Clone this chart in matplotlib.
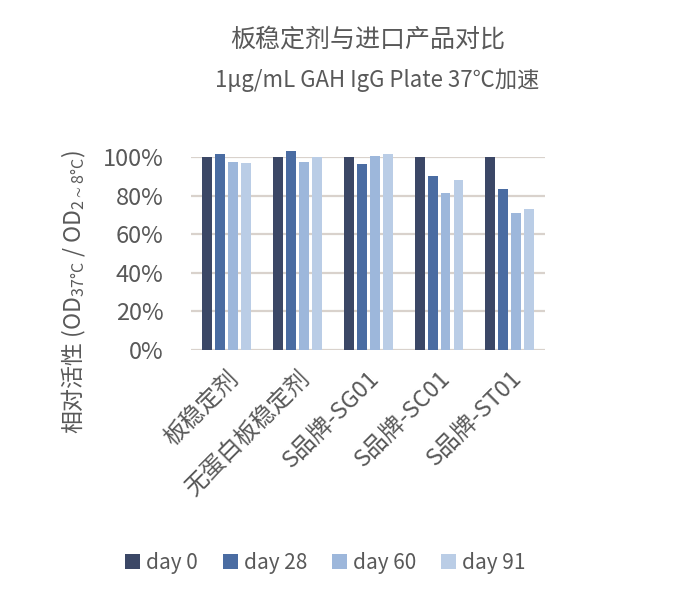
"""
Plate stabiliser vs imported products, 37°C accelerated stability
"""
import numpy as np
import matplotlib
matplotlib.use("Agg")
import matplotlib.pyplot as plt

plt.rcParams["font.family"] = ["Noto Sans CJK SC", "DejaVu Sans"]

# ── Data ──────────────────────────────────────────────────────────────
CATEGORIES = ["板稳定剂", "无蛋白板稳定剂", "S品牌-SG01", "S品牌-SC01", "S品牌-ST01"]
SERIES = ["day 0", "day 28", "day 60", "day 91"]
DAY0 = [1.000, 1.000, 1.000, 1.000, 1.000]
DAY28 = [1.016, 1.033, 0.967, 0.903, 0.836]
DAY60 = [0.976, 0.978, 1.005, 0.813, 0.709]
DAY91 = [0.971, 1.000, 1.016, 0.881, 0.732]
Y_TICKS = [0, 0.2, 0.4, 0.6, 0.8, 1.0]

COLORS = ["#3B4766", "#4A6CA2", "#9DB7DB", "#BACDE6"]
TEXT = "#595959"
GRID = "#D9D2CC"

# ── Plot ──────────────────────────────────────────────────────────────
fig = plt.figure(figsize=(7.0, 6.05), dpi=100)
ax = fig.add_axes([0.273, 0.4215, 0.506, 0.3185])

x = np.arange(len(CATEGORIES))
step, width = 0.183, 0.14
for i, (vals, name) in enumerate(zip([DAY0, DAY28, DAY60, DAY91], SERIES)):
    ax.bar(x + (i - 1.5) * step, vals, width, color=COLORS[i], label=name,
           clip_on=False, zorder=3)

ax.set_xlim(-0.5, len(CATEGORIES) - 0.5)
ax.set_ylim(0, 1.0)
ax.set_yticks(Y_TICKS)
ax.set_yticklabels([f"{int(round(t * 100))}%" for t in Y_TICKS])
ax.yaxis.grid(True, color=GRID, linewidth=1.6, zorder=0)
ax.set_axisbelow(True)
for s in ax.spines.values():
    s.set_visible(False)
ax.tick_params(axis="y", length=0, labelsize=17, colors=TEXT, pad=20)

ax.set_xticks(x)
ax.set_xticklabels(CATEGORIES, rotation=45, ha="right", rotation_mode="anchor",
                   fontsize=17, color=TEXT)
ax.tick_params(axis="x", length=0, pad=12)

ax.set_ylabel(r"相对活性 (OD$_{\mathregular{37°C}}$ / OD$_{\mathregular{2\sim8°C}}$)",
              fontsize=16.5, color=TEXT)
ax.yaxis.set_label_coords(-0.29, 0.30)

fig.text(0.525, 0.935, "板稳定剂与进口产品对比", ha="center", va="center",
         fontsize=18, color=TEXT)
fig.text(0.539, 0.868, "1μg/mL GAH IgG Plate 37℃加速", ha="center", va="center",
         fontsize=16, color=TEXT)

fig.legend(loc="center", bbox_to_anchor=(0.465, 0.07), ncol=4, frameon=False,
           fontsize=15, handlelength=0.7, handleheight=0.7, handletextpad=0.3,
           columnspacing=1.2, labelcolor=TEXT)

fig.savefig("out.png", dpi=100)
